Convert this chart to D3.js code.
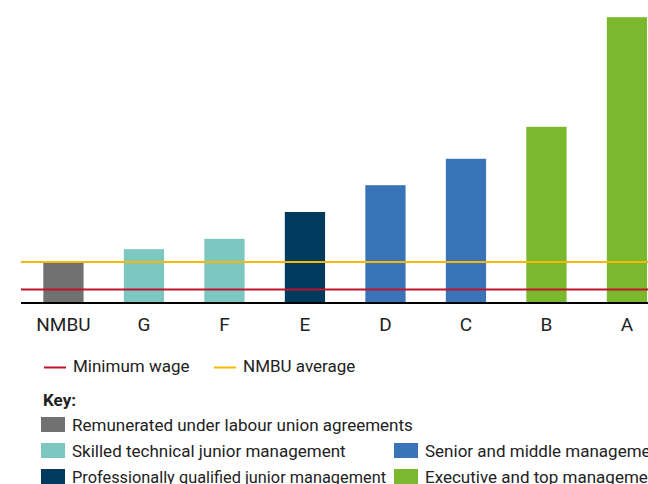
<!DOCTYPE html>
<html>
<head>
<meta charset="utf-8">
<script src="https://cdn.jsdelivr.net/npm/d3@7"></script>
<style>
  body { margin: 0; background: #fff; }
  svg { display: block; font-family: Roboto, "Noto Sans", sans-serif; }
</style>
</head>
<body>
<div id="chart"></div>
<script>
// wage index, NMBU average = 100
const categories = ["NMBU", "G", "F", "E", "D", "C", "B", "A"];
const values = [100, 132, 158, 225, 292, 358, 438, 712];
const groups = ["union", "skilled", "skilled", "qualified", "senior", "senior", "exec", "exec"];
const minimumWage = 31;
const nmbuAverage = 100;

const keyGroups = ["union", "skilled", "qualified", "senior", "exec"];
const keyLabels = [
  "Remunerated under labour union agreements",
  "Skilled technical junior management",
  "Professionally qualified junior management",
  "Senior and middle management",
  "Executive and top management"
];
const keyColors = ["#717171", "#7cc8c0", "#003a5d", "#3a74b8", "#7ab82e"];

const width = 648, height = 484;
const baseY = 302;

const svg = d3.select("#chart").append("svg")
  .attr("width", width)
  .attr("height", height);

const color = d3.scaleOrdinal().domain(keyGroups).range(keyColors);

const x = d3.scaleBand()
  .domain(categories)
  .range([23.2, 667.2])
  .paddingInner(0.5)
  .paddingOuter(0.25);

const y = d3.scaleLinear()
  .domain([0, 720])
  .range([baseY, baseY - 288]);

// bars
svg.append("g")
  .selectAll("rect")
  .data(categories)
  .join("rect")
  .attr("x", d => x(d))
  .attr("width", x.bandwidth())
  .attr("y", (d, i) => y(values[i]))
  .attr("height", (d, i) => y(0) - y(values[i]))
  .attr("fill", (d, i) => color(groups[i]));

// reference lines
const refLines = [
  { v: minimumWage, c: "#c0142c" },
  { v: nmbuAverage, c: "#f6b900" }
];
svg.append("g")
  .selectAll("line")
  .data(refLines)
  .join("line")
  .attr("x1", 21)
  .attr("x2", width)
  .attr("y1", d => y(d.v))
  .attr("y2", d => y(d.v))
  .attr("stroke", d => d.c)
  .attr("stroke-width", 2);

// baseline
svg.append("line")
  .attr("x1", 21).attr("x2", width)
  .attr("y1", baseY + 1).attr("y2", baseY + 1)
  .attr("stroke", "#000")
  .attr("stroke-width", 2);

// x labels
const xAxis = svg.append("g")
  .attr("transform", `translate(0,${baseY})`)
  .call(d3.axisBottom(x).tickSize(0).tickPadding(16));
xAxis.select(".domain").remove();
xAxis.selectAll("text")
  .attr("font-family", "Roboto, sans-serif")
  .attr("font-size", 19)
  .attr("fill", "#222");

// line legend
const lineKey = svg.append("g");
const lineItems = [
  { label: "Minimum wage", c: "#c0142c", x: 44 },
  { label: "NMBU average", c: "#f6b900", x: 214 }
];
lineItems.forEach(d => {
  lineKey.append("line")
    .attr("x1", d.x).attr("x2", d.x + 22)
    .attr("y1", 367.5).attr("y2", 367.5)
    .attr("stroke", d.c).attr("stroke-width", 2);
  lineKey.append("text")
    .attr("x", d.x + 29).attr("y", 372)
    .attr("font-size", 17)
    .attr("fill", "#222")
    .text(d.label);
});

// key
svg.append("text")
  .attr("x", 43).attr("y", 406)
  .attr("font-size", 17)
  .attr("font-weight", "bold")
  .attr("fill", "#222")
  .text("Key:");

const keyPos = [
  { x: 41, y: 417 },
  { x: 41, y: 443 },
  { x: 41, y: 469 },
  { x: 394, y: 443 },
  { x: 394, y: 469 }
];
const key = svg.append("g")
  .selectAll("g")
  .data(keyLabels)
  .join("g")
  .attr("transform", (d, i) => `translate(${keyPos[i].x},${keyPos[i].y})`);
key.append("rect")
  .attr("width", 24).attr("height", 15)
  .attr("fill", (d, i) => keyColors[i]);
key.append("text")
  .attr("x", 31).attr("y", 14)
  .attr("font-size", 17)
  .attr("fill", "#222")
  .text(d => d)
  .each(function(d, i) {
    // left column labels must stop before a swatch on the same row
    if (keyPos[i].x > 100) return;
    const shared = keyPos.some((p, j) => j !== i && p.y === keyPos[i].y);
    if (!shared) return;
    const room = 394 - 8 - (keyPos[i].x + 31);
    const len = this.getComputedTextLength();
    if (len > room) {
      d3.select(this).attr("textLength", room).attr("lengthAdjust", "spacingAndGlyphs");
    }
  });
</script>
</body>
</html>
